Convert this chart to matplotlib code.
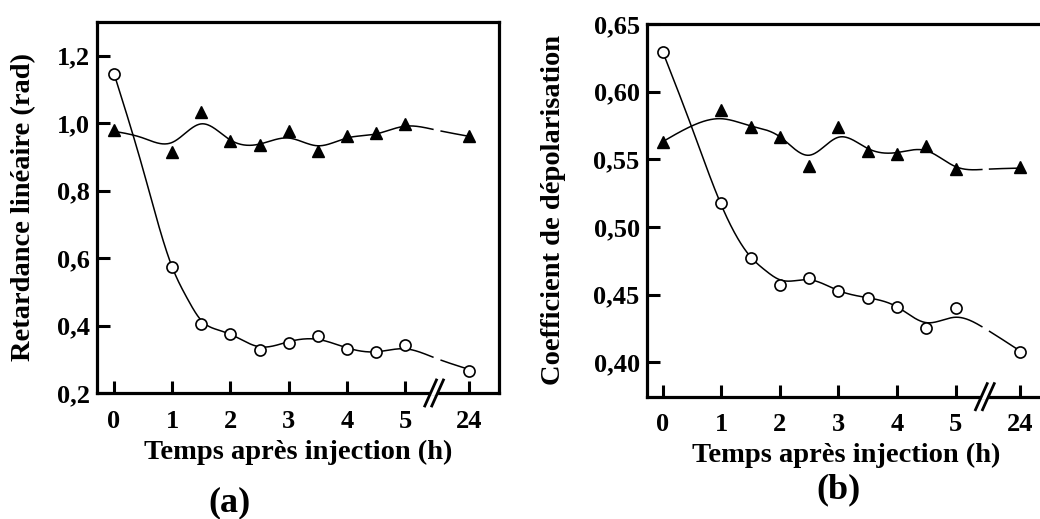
import numpy as np
import matplotlib
matplotlib.use('Agg')
import matplotlib.pyplot as plt

# --- data --- #
# x positions on the (broken) time axis; the last point is the 24 h value
x_pts = [0, 1, 1.5, 2, 2.5, 3, 3.5, 4, 4.5, 5, 6.1]
x_ticks = [0, 1, 2, 3, 4, 5, 6.1]
x_ticklabels = ['0', '1', '2', '3', '4', '5', '24']

# (a) retardance lineaire
ret_tri = [0.981, 0.914, 1.034, 0.946, 0.934, 0.976, 0.918, 0.961, 0.971, 0.998, 0.961]
ret_circ = [1.147, 0.573, 0.404, 0.376, 0.327, 0.347, 0.369, 0.329, 0.322, 0.342, 0.265]
# fitted curves
ret_tri_kx = [0, 0.5, 1, 1.5, 2, 2.5, 3, 3.5, 4, 4.5, 5, 5.5, 6.1]
ret_tri_ky = [0.976, 0.956, 0.943, 0.998, 0.950, 0.938, 0.956, 0.933, 0.956, 0.968, 0.991, 0.981, 0.961]
ret_circ_kx = [0, 0.5, 1, 1.25, 1.5, 1.75, 2, 2.5, 3, 3.5, 4, 4.5, 5, 5.5, 6.1]
ret_circ_ky = [1.147, 0.862, 0.573, 0.483, 0.415, 0.389, 0.374, 0.337, 0.352, 0.359, 0.334, 0.322, 0.331, 0.305, 0.270]
ret_yticks = [0.2, 0.4, 0.6, 0.8, 1.0, 1.2]
ret_yticklabels = ['0,2', '0,4', '0,6', '0,8', '1,0', '1,2']

# (b) coefficient de depolarisation
dep_tri = [0.563, 0.5865, 0.5737, 0.5663, 0.545, 0.574, 0.5564, 0.554, 0.560, 0.5426, 0.544]
dep_circ = [0.6296, 0.518, 0.4773, 0.457, 0.4625, 0.4527, 0.4477, 0.4406, 0.425, 0.4404, 0.4078]
dep_tri_kx = [0, 0.5, 1, 1.5, 2, 2.5, 3, 3.5, 4, 4.5, 5, 5.5, 6.1]
dep_tri_ky = [0.563, 0.5747, 0.580, 0.5747, 0.5667, 0.553, 0.5663, 0.558, 0.555, 0.5564, 0.5446, 0.5426, 0.5435]
dep_circ_kx = [0, 0.5, 1, 1.5, 1.75, 2, 2.5, 3, 3.5, 4, 4.5, 5, 5.5, 6.1]
dep_circ_ky = [0.6296, 0.5733, 0.5163, 0.478, 0.468, 0.461, 0.461, 0.453, 0.4477, 0.441, 0.4293, 0.4333, 0.425, 0.4084]
dep_yticks = [0.40, 0.45, 0.50, 0.55, 0.60, 0.65]
dep_yticklabels = ['0,40', '0,45', '0,50', '0,55', '0,60', '0,65']


def smooth(xk, yk, xs):
    # natural cubic spline through the read-off curve points
    xk = np.asarray(xk, float)
    yk = np.asarray(yk, float)
    n = len(xk)
    h = np.diff(xk)
    A = np.zeros((n, n))
    r = np.zeros(n)
    A[0, 0] = A[-1, -1] = 1
    for i in range(1, n - 1):
        A[i, i - 1] = h[i - 1]
        A[i, i] = 2 * (h[i - 1] + h[i])
        A[i, i + 1] = h[i]
        r[i] = 3 * ((yk[i + 1] - yk[i]) / h[i] - (yk[i] - yk[i - 1]) / h[i - 1])
    c = np.linalg.solve(A, r)
    b = (yk[1:] - yk[:-1]) / h - h * (2 * c[:-1] + c[1:]) / 3
    d = (c[1:] - c[:-1]) / (3 * h)
    idx = np.clip(np.searchsorted(xk, xs) - 1, 0, n - 2)
    dx = xs - xk[idx]
    return yk[idx] + b[idx] * dx + c[idx] * dx ** 2 + d[idx] * dx ** 3


plt.rcParams['font.family'] = ['Liberation Serif', 'DejaVu Serif']
plt.rcParams['font.weight'] = 'bold'

fig = plt.figure(figsize=(10.4, 5.19), dpi=100)
ax_a = fig.add_axes([0.0933, 0.2428, 0.3865, 0.7148])
ax_b = fig.add_axes([0.6218, 0.2357, 0.3832, 0.7181])


def draw_panel(ax, tri, circ, tkx, tky, ckx, cky, ylim, xlim, yticks, yticklabels, ylabel, gap, ypad):
    xs = np.linspace(0, 6.1, 600)
    for kx, ky in ((tkx, tky), (ckx, cky)):
        ys = smooth(kx, ky, xs)
        ys[(xs > gap[0]) & (xs < gap[1])] = np.nan
        ax.plot(xs, ys, color='black', lw=1.1, zorder=2)
    ax.plot(x_pts, circ, 'o', ms=8, mfc='white', mec='black', mew=1.2, zorder=3)
    ax.plot(x_pts, tri, '^', ms=9, color='black', zorder=3)

    ax.set_xlim(xlim)
    ax.set_ylim(ylim)
    ax.set_xticks(x_ticks)
    ax.set_xticklabels(x_ticklabels)
    ax.set_yticks(yticks)
    ax.set_yticklabels(yticklabels)
    ax.tick_params(direction='in', length=9, width=2.2, labelsize=19)
    ax.tick_params(axis='x', pad=12)
    ax.tick_params(axis='y', pad=5)
    for s in ax.spines.values():
        s.set_linewidth(2.3)
    ax.set_xlabel('Temps après injection (h)', fontsize=20.5, fontweight='bold', labelpad=5)
    ax.set_ylabel(ylabel, fontsize=20.5, fontweight='bold', labelpad=ypad)

    # axis break marks at 5.5
    y0 = ylim[0]
    dy = (ylim[1] - ylim[0]) * 0.035
    for off in (-0.06, 0.06):
        ax.plot([5.5 + off - 0.1, 5.5 + off + 0.1], [y0 - dy, y0 + dy],
                color='black', lw=2, clip_on=False, zorder=5)
    ax.plot([5.46, 5.54], [y0, y0], color='white', lw=3, clip_on=False, zorder=4)


draw_panel(ax_a, ret_tri, ret_circ, ret_tri_kx, ret_tri_ky, ret_circ_kx, ret_circ_ky,
           (0.2, 1.3), (-0.292, 6.615), ret_yticks, ret_yticklabels,
           'Retardance linéaire (rad)', (5.48, 5.62), 15)
draw_panel(ax_b, dep_tri, dep_circ, dep_tri_kx, dep_tri_ky, dep_circ_kx, dep_circ_ky,
           (0.3746, 0.65), (-0.273, 6.53), dep_yticks, dep_yticklabels,
           'Coefficient de dépolarisation', (5.45, 5.58), 20)

fig.text(0.221, 0.031, '(a)', fontsize=26, fontweight='bold', ha='center', va='center')
fig.text(0.806, 0.056, '(b)', fontsize=26, fontweight='bold', ha='center', va='center')

fig.savefig('out.png', dpi=100)
